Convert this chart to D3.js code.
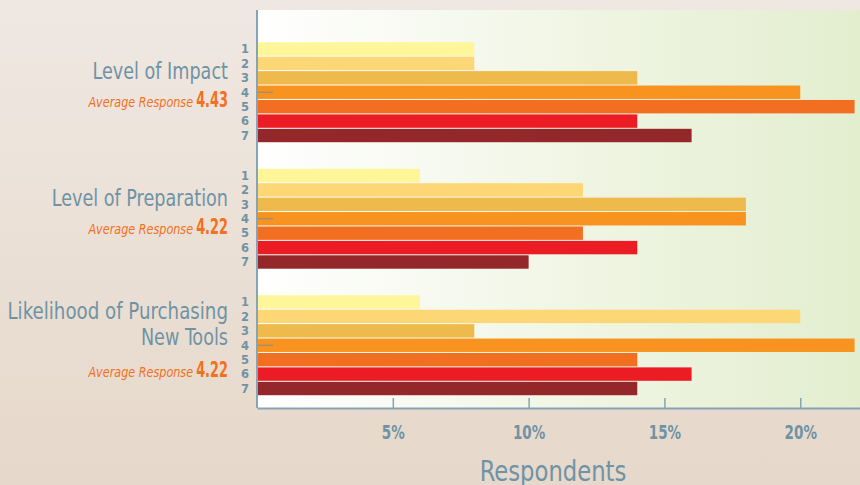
<!DOCTYPE html>
<html>
<head>
<meta charset="utf-8">
<script src="https://cdn.jsdelivr.net/npm/d3@7"></script>
<style>
  html, body { margin: 0; padding: 0; }
  body { width: 860px; height: 485px; overflow: hidden; }
  .cond { font-family: "DejaVu Sans Condensed", "DejaVu Sans", sans-serif; }
</style>
</head>
<body>
<div id="chart"></div>
<script>
'use strict';

// Survey questions (one block of bars each) and their average score
const questions = ["Level of Impact", "Level of Preparation", "Likelihood of Purchasing New Tools"];
const averages = [4.43, 4.22, 4.22];
const ratings = ["1", "2", "3", "4", "5", "6", "7"];

// Share of respondents (%) giving each rating
const impactValues = [8, 8, 14, 20, 22, 14, 16];
const preparationValues = [6, 12, 18, 18, 12, 14, 10];
const purchasingValues = [6, 20, 8, 22, 14, 16, 14];

const xTicks = [5, 10, 15, 20];

const W = 860, H = 485;
const axisX = 257, plotTop = 10, plotBottom = 408;
const axisColor = "#86a4b4";
const textColor = "#6f93a5";
const orange = "#f37021";
const barColors = ["#fff599", "#fdd776", "#eeba4b", "#f7931e", "#f26f22", "#ec1c24", "#93272a"];

const series = [impactValues, preparationValues, purchasingValues];

// the original uses a condensed face, squeeze DejaVu to get close
function squeeze (sel, factor) {
  sel.each(function () {
    const len = this.getComputedTextLength();
    d3.select(this)
      .attr("textLength", len * factor)
      .attr("lengthAdjust", "spacingAndGlyphs");
  });
}

const svg = d3.select("#chart").append("svg")
  .attr("width", W)
  .attr("height", H);

const defs = svg.append("defs");

// page background, warm beige getting darker downwards
const pageGrad = defs.append("linearGradient")
  .attr("id", "pageGrad").attr("x1", 0).attr("y1", 0).attr("x2", 0).attr("y2", 1);
pageGrad.append("stop").attr("offset", "0%").attr("stop-color", "#efe8e2");
pageGrad.append("stop").attr("offset", "100%").attr("stop-color", "#e6d8ca");

// plot background, white to pale green
const plotGrad = defs.append("linearGradient")
  .attr("id", "plotGrad").attr("x1", 0).attr("y1", 0).attr("x2", 1).attr("y2", 0);
plotGrad.append("stop").attr("offset", "0%").attr("stop-color", "#ffffff");
plotGrad.append("stop").attr("offset", "55%").attr("stop-color", "#f0f5e3");
plotGrad.append("stop").attr("offset", "100%").attr("stop-color", "#e3eecf");

svg.append("rect")
  .attr("width", W).attr("height", H)
  .attr("fill", "url(#pageGrad)");

// Scales
const x = d3.scaleLinear()
  .domain([0, 22.2])
  .range([axisX, W]);

const yGroup = d3.scaleBand()
  .domain(questions)
  .range([29, 408.5])
  .paddingInner(0.21)
  .paddingOuter(0.105);

const yBar = d3.scaleBand()
  .domain(ratings)
  .range([0, yGroup.bandwidth()])
  .paddingInner(0.07);

svg.append("rect")
  .attr("x", axisX)
  .attr("y", plotTop)
  .attr("width", W - axisX)
  .attr("height", plotBottom - plotTop)
  .attr("fill", "url(#plotGrad)");

// Bars
const groups = svg.selectAll(".group")
  .data(questions)
  .enter().append("g")
  .attr("class", "group")
  .attr("transform", (d) => `translate(0,${yGroup(d)})`);

groups.selectAll(".bar")
  .data((d, i) => series[i].map((v, j) => ({ rating: ratings[j], value: v })))
  .enter().append("rect")
  .attr("class", "bar")
  .attr("x", x(0))
  .attr("y", (d) => yBar(d.rating))
  .attr("width", (d) => x(d.value) - x(0))
  .attr("height", yBar.bandwidth())
  .attr("fill", (d, i) => barColors[i]);

// Rating numbers on the left of each block
groups.each(function () {
  const g = d3.select(this);
  const ax = g.append("g")
    .attr("transform", `translate(${axisX - 8},0)`)
    .call(d3.axisLeft(yBar).tickSize(0).tickPadding(0));
  ax.select(".domain").remove();
  ax.selectAll("text")
    .attr("fill", textColor)
    .attr("font-family", "DejaVu Sans, sans-serif")
    .attr("font-weight", "bold")
    .attr("font-size", 11.5)
    .attr("dy", "0.37em");

  // short tick at the middle rating
  g.append("line")
    .attr("x1", axisX)
    .attr("x2", axisX + 16)
    .attr("y1", yBar("4") + yBar.bandwidth() / 2)
    .attr("y2", yBar("4") + yBar.bandwidth() / 2)
    .attr("stroke", "#7d8f99")
    .attr("stroke-width", 1);
});

// Question titles and average responses
const titleLines = [["Level of Impact"], ["Level of Preparation"], ["Likelihood of Purchasing", "New Tools"]];

groups.each(function (d, i) {
  const g = d3.select(this);
  const lines = titleLines[i];
  const firstBase = lines.length > 1 ? 24 : 37;
  lines.forEach((line, k) => {
    g.append("text")
      .attr("class", "cond title")
      .attr("x", 228)
      .attr("y", firstBase + k * 26)
      .attr("text-anchor", "end")
      .attr("fill", textColor)
      .attr("font-size", 22.5)
      .text(line)
      .call(squeeze, k === 0 && lines.length > 1 ? 0.9 : 0.87);
  });

  const avgY = lines.length > 1 ? 82 : 65;
  const num = g.append("text")
    .attr("class", "cond")
    .attr("x", 228)
    .attr("y", avgY)
    .attr("text-anchor", "end")
    .attr("fill", orange)
    .attr("font-weight", "bold")
    .attr("font-size", 20.5)
    .text(averages[i].toFixed(2))
    .call(squeeze, 0.7);
  const numW = +num.attr("textLength");

  g.append("text")
    .attr("class", "cond")
    .attr("x", 228 - numW - 3)
    .attr("y", avgY)
    .attr("text-anchor", "end")
    .attr("fill", orange)
    .attr("font-style", "italic")
    .attr("font-size", 14.5)
    .text("Average Response")
    .call(squeeze, 0.86);
});

// Axes
svg.append("line")
  .attr("x1", axisX).attr("x2", axisX)
  .attr("y1", plotTop).attr("y2", plotBottom)
  .attr("stroke", axisColor)
  .attr("stroke-width", 2);

const xAxis = svg.append("g")
  .attr("transform", `translate(0,${plotBottom})`)
  .call(d3.axisBottom(x)
    .tickValues(xTicks)
    .tickSize(-10)
    .tickSizeOuter(0)
    .tickPadding(17)
    .tickFormat((d) => d + "%"));

xAxis.select(".domain")
  .attr("stroke", axisColor)
  .attr("stroke-width", 2);
xAxis.selectAll(".tick line")
  .attr("stroke", axisColor)
  .attr("stroke-width", 1.5);
xAxis.selectAll(".tick text")
  .attr("class", "cond")
  .attr("fill", textColor)
  .attr("font-weight", "bold")
  .attr("font-size", 20)
  .call(squeeze, 0.75);

svg.append("text")
  .attr("class", "cond")
  .attr("x", 553)
  .attr("y", 481)
  .attr("text-anchor", "middle")
  .attr("fill", textColor)
  .attr("font-size", 29)
  .text("Respondents")
  .call(squeeze, 0.87);
</script>
</body>
</html>
